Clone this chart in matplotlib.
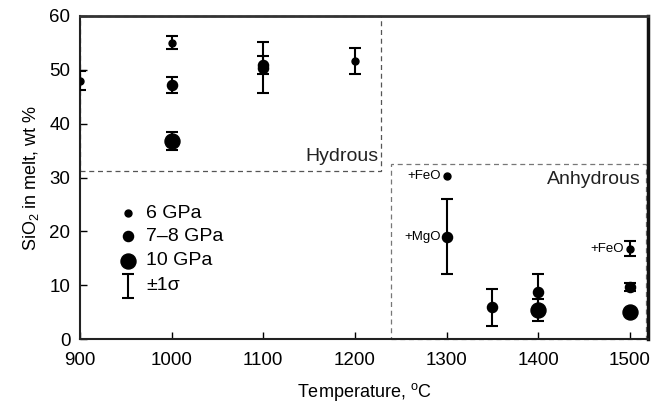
import matplotlib
matplotlib.use("Agg")
import matplotlib.pyplot as plt
import numpy as np
from matplotlib.patches import Rectangle

plt.rcParams['font.family'] = ['Liberation Sans', 'DejaVu Sans']

# 6 GPa (small markers)
t6 = [900, 1000, 1200, 1300, 1500]
s6 = [48.0, 55.0, 51.7, 30.2, 16.8]
e6 = [1.7, 1.2, 2.4, np.nan, 1.4]

# 7-8 GPa (medium markers)
t78 = [1000, 1100, 1100, 1300, 1350, 1400, 1500]
s78 = [47.2, 50.9, 50.4, 19.0, 5.9, 8.8, 9.7]
e78 = [1.5, 1.7, 4.7, 7.0, 3.4, 3.3, 0.8]

# 10 GPa (large markers)
t10 = [1000, 1400, 1500]
s10 = [36.8, 5.4, 5.0]
e10 = [1.6, 2.1, np.nan]

xticks = [900, 1000, 1100, 1200, 1300, 1400, 1500]
yticks = [0, 10, 20, 30, 40, 50, 60]

fig = plt.figure(figsize=(6.54, 4.09), dpi=100)
ax = fig.add_axes([0.1223, 0.171, 0.8687, 0.790])
ax.set_xlim(900, 1520)
ax.set_ylim(0, 60)

ekw = dict(fmt='o', color='black', ecolor='black', elinewidth=1.5, capsize=4, capthick=1.5, zorder=4)
ax.errorbar(t6, s6, yerr=e6, markersize=5, **ekw)
ax.errorbar(t78, s78, yerr=e78, markersize=7.3, **ekw)
ax.errorbar(t10, s10, yerr=e10, markersize=10.8, **ekw)

# boxes
ax.add_patch(Rectangle((900, 31.2), 1229 - 900, 60 - 31.2, fill=False,
                       ls=(0, (4, 3)), lw=0.9, ec='#555555', zorder=2, clip_on=False))
ax.add_patch(Rectangle((1239, 0), 1518 - 1239, 32.5, fill=False,
                       ls=(0, (4, 3)), lw=0.9, ec='#777777', zorder=2, clip_on=False))
ax.text(1226, 32.3, 'Hydrous', ha='right', va='bottom', fontsize=14, color='#222222')
ax.text(1512, 31.2, 'Anhydrous', ha='right', va='top', fontsize=14, color='#222222')

# annotations
ax.text(1294, 30.2, '+FeO', ha='right', va='center', fontsize=9.5)
ax.text(1294, 19.0, '+MgO', ha='right', va='center', fontsize=9.5)
ax.text(1494, 16.8, '+FeO', ha='right', va='center', fontsize=9.5)

# legend
lx = 952
tx = 972
ax.plot([lx], [23.4], 'o', color='black', markersize=5)
ax.plot([lx], [19.1], 'o', color='black', markersize=7.3)
ax.plot([lx], [14.5], 'o', color='black', markersize=10.8)
ax.errorbar([lx], [9.9], yerr=[2.2], fmt='none', ecolor='black', elinewidth=1.5, capsize=4, capthick=1.5)
for yy, lab in [(23.4, '6 GPa'), (19.1, '7–8 GPa'), (14.5, '10 GPa'), (10.0, '±1σ')]:
    ax.text(tx, yy, lab, ha='left', va='center', fontsize=14)

ax.set_xticks(xticks)
ax.set_yticks(yticks)
ax.tick_params(direction='in', length=5, width=1, labelsize=13.5, pad=9)
ax.tick_params(axis='y', pad=7)

ax.set_xlabel('Temperature, $^{\\mathregular{o}}$C', fontsize=13, labelpad=9)
ax.set_ylabel('SiO$_{\\mathregular{2}}$ in melt, wt %', fontsize=13, labelpad=6)

for s in ['left', 'bottom']:
    ax.spines[s].set_linewidth(1.5)
    ax.spines[s].set_color('#222222')
ax.spines['top'].set_linewidth(2)
ax.spines['top'].set_color('#333333')
ax.spines['right'].set_linewidth(2.5)
ax.spines['right'].set_color('#111111')

fig.savefig('out.png', dpi=100)
